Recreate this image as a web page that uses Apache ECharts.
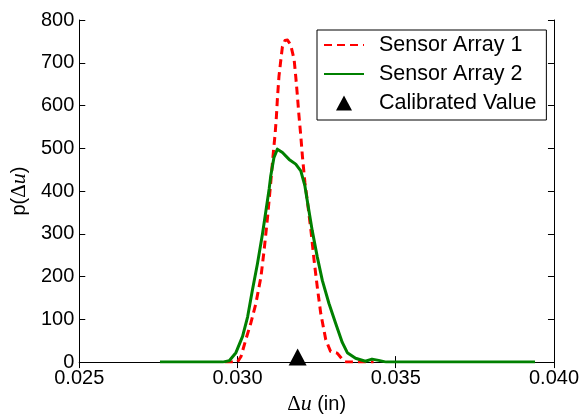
<!DOCTYPE html>
<html>
<head>
<meta charset="utf-8">
<script src="https://cdn.jsdelivr.net/npm/echarts@6/dist/echarts.min.js"></script>
<style>
  html, body { margin: 0; padding: 0; background: #fff; }
  #chart { width: 582px; height: 420px; }
</style>
</head>
<body>
<div id="chart"></div>
<script>
// Displacement Δu (in) and probability density for each sensor array
const array1X = [0.0296, 0.0300, 0.03011, 0.03026, 0.03042, 0.03058, 0.03074, 0.03084, 0.03095, 0.03105,
                 0.03112, 0.03119, 0.03123, 0.03126, 0.03131, 0.03137, 0.03142, 0.03150, 0.03158, 0.03168,
                 0.03179, 0.03184, 0.03189, 0.03194, 0.03200, 0.03205, 0.03213, 0.03221, 0.03232, 0.03242,
                 0.03252, 0.03263, 0.03279, 0.03294, 0.03315, 0.03336, 0.03345, 0.0343];
const array1P = [0, 0, 13, 52, 91, 137, 199, 261, 339, 420,
                 480, 535, 575, 615, 668, 707, 738, 752, 753, 742,
                 707, 668, 625, 578, 529, 482, 420, 375, 308, 238,
                 176, 114, 52, 25, 21, 2, 0, 0];

const array2X = [0.02755, 0.0290, 0.02953, 0.02974, 0.02995, 0.03016, 0.03032, 0.03047, 0.03063, 0.03079,
                 0.03089, 0.03100, 0.03105, 0.03115, 0.03126, 0.03142, 0.03163, 0.03184, 0.03200, 0.03213,
                 0.03221, 0.03236, 0.03252, 0.03268, 0.03289, 0.03310, 0.03331, 0.03347, 0.03373, 0.03404,
                 0.03425, 0.03446, 0.0347, 0.0360, 0.0394];
const array2P = [0, 0, 0, 3, 22, 60, 106, 168, 230, 300,
                 350, 405, 435, 478, 498, 490, 474, 463, 447, 412,
                 375, 308, 246, 191, 137, 91, 46, 22, 9, 2,
                 7, 4, 0, 0, 0];

const calibratedX = [0.0319];
const calibratedP = [12];

const seriesNames = ['Sensor Array 1', 'Sensor Array 2', 'Calibrated Value'];
const xTicks = { min: 0.025, max: 0.040, step: 0.005 };
const yTicks = { min: 0, max: 800, step: 100 };

const pairs = (xs, ys) => xs.map((x, i) => [x, ys[i]]);

const FONT = '"Liberation Sans", Arial, sans-serif';
const mathRich = {
  t: { fontFamily: FONT, fontSize: 20, color: '#000' },
  d: { fontFamily: '"Liberation Serif", serif', fontSize: 21, color: '#000' },
  u: { fontFamily: '"Liberation Serif", serif', fontStyle: 'italic', fontSize: 22, color: '#000' }
};

const axisLineStyle = { show: true, lineStyle: { color: '#000', width: 1 } };
const tickStyle = { show: true, inside: true, length: 6, lineStyle: { color: '#000', width: 1 } };

const chart = echarts.init(document.getElementById('chart'), null, { renderer: 'canvas' });
chart.setOption({
  animation: false,
  backgroundColor: '#fff',
  grid: { left: 78, right: 28, top: 20, bottom: 56, containLabel: false },
  xAxis: [
    {
      type: 'value', min: xTicks.min, max: xTicks.max, interval: xTicks.step,
      axisLine: axisLineStyle, axisTick: tickStyle, splitLine: { show: false },
      axisLabel: { fontFamily: FONT, fontSize: 20, color: '#000', margin: 6,
                   formatter: v => v.toFixed(3) },
      name: '{d|Δ}{u|u}{t| (in)}', nameLocation: 'middle', nameGap: 29,
      nameTextStyle: { rich: mathRich }
    },
    {
      type: 'value', position: 'top', min: xTicks.min, max: xTicks.max, interval: xTicks.step,
      axisLine: axisLineStyle, axisTick: tickStyle, axisLabel: { show: false }, splitLine: { show: false }
    }
  ],
  yAxis: [
    {
      type: 'value', min: yTicks.min, max: yTicks.max, interval: yTicks.step,
      axisLine: axisLineStyle, axisTick: tickStyle, splitLine: { show: false },
      axisLabel: { fontFamily: FONT, fontSize: 20, color: '#000', margin: 5 },
      name: '{t|p(}{d|Δ}{u|u}{t|)}', nameLocation: 'middle', nameGap: 46,
      nameTextStyle: { rich: mathRich }
    },
    {
      type: 'value', position: 'right', min: yTicks.min, max: yTicks.max, interval: yTicks.step,
      axisLine: axisLineStyle, axisTick: tickStyle, axisLabel: { show: false }, splitLine: { show: false }
    }
  ],
  legend: {
    orient: 'vertical', left: 317, top: 30,
    padding: [4, 10, 6, 6], itemGap: 7, itemWidth: 40, itemHeight: 15,
    borderColor: '#000', borderWidth: 1, borderRadius: 0, backgroundColor: '#fff',
    textStyle: { fontFamily: FONT, fontSize: 21.5, color: '#000', lineHeight: 22, padding: [0, 0, 0, 10] },
    data: [
      // line samples only: hide the marker that the legend adds on line series
      { name: seriesNames[0], itemStyle: { opacity: 0 } },
      { name: seriesNames[1], itemStyle: { opacity: 0 } },
      { name: seriesNames[2], icon: 'path://M0,15 L8,0 L16,15 Z', itemStyle: { color: '#000', opacity: 1 } }
    ]
  },
  series: [
    {
      name: seriesNames[0], type: 'line', data: pairs(array1X, array1P),
      symbol: 'none', smooth: false, z: 2,
      lineStyle: { color: '#ff0000', width: 3, type: [8, 5], join: 'round' },
      itemStyle: { color: '#ff0000' }
    },
    {
      name: seriesNames[1], type: 'line', data: pairs(array2X, array2P),
      symbol: 'none', smooth: false, z: 3,
      lineStyle: { color: '#008000', width: 3, join: 'round' },
      itemStyle: { color: '#008000' }
    },
    {
      name: seriesNames[2], type: 'scatter', data: pairs(calibratedX, calibratedP),
      symbol: 'triangle', symbolSize: [18, 17], z: 4,
      itemStyle: { color: '#000', opacity: 1 }
    }
  ]
});
</script>
</body>
</html>
